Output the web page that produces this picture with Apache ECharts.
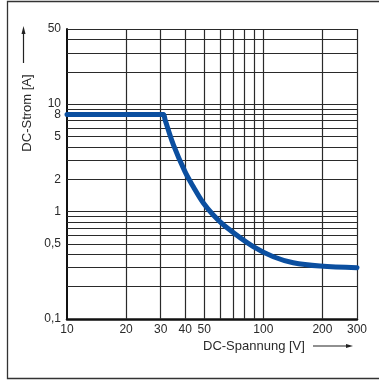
<!DOCTYPE html>
<html><head><meta charset="utf-8">
<script src="https://cdn.jsdelivr.net/npm/echarts@6/dist/echarts.min.js"></script>
<style>html,body{margin:0;padding:0;background:#fff}#c{width:379px;height:380px}</style>
</head><body><div id="c"></div>
<script>
const voltage = [10, 30, 31, 31.6, 34.8, 39.9, 44, 49.5, 55.6, 65.1, 88.9, 112.5, 142, 194.5, 300];
const current = [8, 8, 8, 7.13, 4.2, 2.35, 1.70, 1.2, 0.93, 0.71, 0.471, 0.38, 0.334, 0.311, 0.30];
const xTickLabels = [10, 20, 30, 40, 50, 100, 200, 300];
const yTickLabels = [0.1, 0.5, 1, 2, 5, 8, 10, 50];
const xGridValues = [20, 30, 40, 50, 60, 70, 80, 90, 100, 200, 300];
const yGridValues = [0.2, 0.3, 0.4, 0.5, 0.6, 0.7, 0.8, 0.9, 1, 2, 3, 4, 5, 6, 7, 8, 9, 10, 20, 30, 40, 50];

const chart = echarts.init(document.getElementById('c'), null, {renderer: 'canvas'});
const font = 'Liberation Sans, Arial, sans-serif';
const gridLines = xGridValues.map(v => ({xAxis: v})).concat(yGridValues.map(v => ({yAxis: v})));

chart.setOption({
  animation: false,
  grid: {left: 67, top: 29, right: 22, bottom: 61},
  xAxis: {
    type: 'log', logBase: 10, min: 10, max: 300,
    axisLine: {show: true, lineStyle: {color: '#111', width: 2.5}},
    axisTick: {show: false},
    splitLine: {show: false},
    minorSplitLine: {show: false},
    axisLabel: {customValues: xTickLabels, color: '#2a2a2a', fontSize: 12, fontFamily: font, margin: 5,
      formatter: v => String(v)}
  },
  yAxis: {
    type: 'log', logBase: 10, min: 0.1, max: 50,
    axisLine: {show: true, lineStyle: {color: '#111', width: 2}},
    axisTick: {show: false},
    splitLine: {show: false},
    axisLabel: {customValues: yTickLabels, color: '#2a2a2a', fontSize: 12, fontFamily: font, margin: 6,
      formatter: v => String(+v.toPrecision(3)).replace('.', ',')}
  },
  series: [
    {
      type: 'line', data: [], z: 1, silent: true,
      markLine: {
        silent: true, symbol: ['none', 'none'], animation: false,
        label: {show: false},
        lineStyle: {type: 'solid', color: '#2a2a2a', width: 1.2},
        emphasis: {disabled: true},
        data: gridLines
      }
    },
    {
      type: 'line', z: 5, smooth: 0.35, showSymbol: false, silent: true,
      data: voltage.map((v, i) => [v, current[i]]),
      lineStyle: {color: '#0b4fa0', width: 5, cap: 'round'}
    }
  ],
  graphic: [
    {type: 'rect', shape: {x: 7.5, y: 1.5, width: 400, height: 377}, style: {fill: 'none', stroke: '#333', lineWidth: 1.3}, silent: true},
    {type: 'text', x: 203, y: 346, style: {text: 'DC-Spannung [V]', fill: '#2a2a2a', font: '13px ' + font, verticalAlign: 'middle', align: 'left'}},
    {type: 'line', shape: {x1: 313, y1: 346, x2: 347, y2: 346}, style: {stroke: '#222', lineWidth: 1.2}},
    {type: 'polygon', shape: {points: [[353, 346], [346, 344], [346, 348]]}, style: {fill: '#222'}},
    {type: 'text', x: 27, y: 113, rotation: Math.PI / 2, style: {text: 'DC-Strom [A]', fill: '#2a2a2a', font: '13px ' + font, verticalAlign: 'middle', align: 'center'}},
    {type: 'line', shape: {x1: 23.5, y1: 63, x2: 23.5, y2: 33}, style: {stroke: '#222', lineWidth: 1.2}},
    {type: 'polygon', shape: {points: [[23.5, 26], [21.5, 34], [25.5, 34]]}, style: {fill: '#222'}}
  ]
});
</script></body></html>
